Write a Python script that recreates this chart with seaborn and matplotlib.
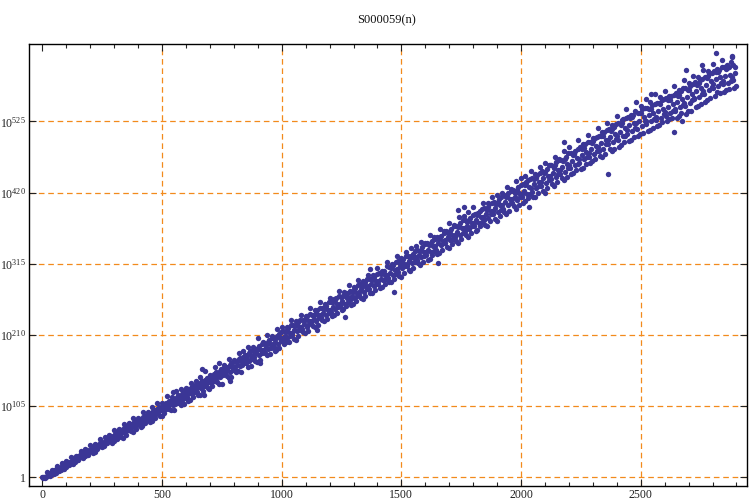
import numpy as np
import pandas as pd
import matplotlib
matplotlib.use("Agg")
import matplotlib.pyplot as plt
import seaborn as sns
from matplotlib.ticker import FixedLocator, FixedFormatter, MultipleLocator

title = "S000059(n)"
x_ticks = [0, 500, 1000, 1500, 2000, 2500]
y_ticks = [0, 105, 210, 315, 420, 525]
y_labels = ["1", r"$10^{105}$", r"$10^{210}$", r"$10^{315}$", r"$10^{420}$", r"$10^{525}$"]

upper_edge = [1,7,10,16,21,24,30,32,39,42,47,49,56,60,62,70,71,78,80,88,88,96,96,103,110,110,120,119,127,130,
131,139,142,148,157,151,162,169,165,175,173,184,186,192,192,205,200,210,208,218,221,222,232,230,240,238,249,247,258,255,
265,263,275,274,283,281,291,289,299,298,308,305,318,315,326,324,333,338,341,347,345,358,352,366,364,375,372,384,385,391,
398,390,405,404,414,417,420,428,425,437,442,436,452,447,458,463,460,473,470,481,488,478,497,491,505,500,515,510,523,520,
533,527,543,535,553,548,558,553,566,561,570,562,578,571,586,582,592,590,601,600,610,603,616,608,620]
upper_mid = [1,5,10,14,19,23,28,31,37,40,44,48,53,57,61,66,69,74,78,83,86,91,95,99,104,108,113,116,122,125,
130,133,139,142,147,150,155,160,163,168,172,176,181,186,189,194,198,203,206,212,215,220,224,229,232,238,240,246,250,253,
258,264,266,272,275,279,285,288,293,296,301,305,310,313,319,322,327,330,336,339,345,349,354,356,363,366,371,375,380,383,
389,393,397,403,406,410,416,419,424,428,433,438,442,446,452,455,460,465,468,473,478,482,488,491,495,501,504,509,514,517,
522,528,531,535,538,543,545,549,552,556,559,562,567,570,574,578,583,586,591,596,600,601,606,605,609]
middle = [0,4,8,12,17,21,25,29,34,37,41,45,50,54,58,62,66,70,74,79,82,87,90,95,99,103,108,111,116,120,
124,128,133,137,141,145,149,154,158,162,166,170,175,179,183,187,192,196,200,205,209,213,217,222,226,230,234,239,243,247,
251,256,260,264,268,272,277,281,285,289,293,298,302,306,311,315,319,323,328,332,336,341,345,349,354,358,362,367,371,375,
380,384,388,393,397,401,406,410,414,419,423,428,432,436,441,445,449,454,458,462,467,471,476,480,484,489,493,497,502,506,
510,515,519,523,526,531,534,537,540,543,546,550,554,558,561,565,570,574,579,584,588,590,592,594,597]
lower_mid = [-1,3,6,10,15,19,22,26,31,33,38,42,46,50,54,58,62,65,69,75,78,82,85,91,94,98,102,106,110,114,
118,123,126,132,135,139,144,148,152,155,160,164,168,172,177,180,185,189,194,197,203,206,210,215,219,222,228,231,236,240,
244,248,253,256,261,265,269,274,277,282,285,291,294,299,303,308,311,316,320,325,328,333,336,342,345,350,354,358,363,366,
371,375,380,383,388,392,396,401,405,409,414,418,421,427,430,434,440,443,448,451,456,461,464,469,473,477,482,485,491,494,
498,503,507,511,514,518,521,525,527,530,533,538,541,546,548,552,558,561,566,571,575,578,580,582,586]
lower_edge = [-1,2,5,9,12,18,20,26,29,33,35,41,44,50,51,56,60,62,68,71,74,80,81,88,90,95,100,99,109,108,
113,119,122,127,131,134,141,138,149,148,155,155,168,164,172,173,183,182,191,190,197,200,204,209,214,215,223,225,232,233,
238,243,246,253,254,260,264,268,272,276,279,285,288,293,297,302,306,309,316,318,321,328,330,336,339,344,348,352,358,361,
363,370,372,378,381,385,392,393,400,402,405,412,414,420,423,427,433,436,441,443,447,453,455,462,464,469,474,477,484,484,
487,494,496,502,504,508,511,515,518,524,525,530,530,537,536,541,546,550,553,560,563,567,568,573,574]
fill_a = [1,3,9,11,18,20,26,30,33,38,43,46,48,55,59,60,68,69,76,77,85,84,93,93,102,101,111,108,119,117,
127,125,137,134,145,142,153,151,162,158,171,166,180,175,188,183,197,191,205,201,214,209,223,217,232,226,239,235,248,243,
258,251,267,259,274,268,282,277,291,285,300,292,309,300,316,311,324,317,334,326,343,334,352,345,360,352,369,361,377,370,
387,376,395,388,403,395,413,404,420,413,431,418,440,430,449,438,457,448,467,456,476,462,485,473,493,482,503,491,511,499,
519,504,530,516,538,525,544,528,552,536,556,541,563,549,571,557,579,565,589,576,598,582,602,585,606]
fill_b = [0,6,7,13,16,22,24,28,35,36,40,47,51,52,57,64,64,72,73,81,80,89,88,97,97,106,105,114,112,123,
121,131,130,140,138,148,146,157,155,165,163,174,172,183,180,191,188,199,197,209,205,217,213,226,222,235,230,243,240,251,
247,261,256,269,265,276,273,285,282,294,289,303,298,311,307,319,315,327,325,336,332,346,341,354,350,363,358,371,368,380,
375,390,384,398,393,406,401,415,411,424,418,434,427,442,436,451,444,460,453,469,461,477,470,486,479,496,487,504,497,514,
504,522,513,531,522,538,526,544,531,551,539,556,544,564,552,572,560,582,570,592,580,598,584,604,590]
fill_c = [2,5,6,14,15,23,23,31,31,40,37,48,46,57,53,67,58,75,66,84,76,92,83,100,91,110,99,117,107,128,
114,136,121,144,130,153,137,161,146,170,157,178,163,188,170,196,180,205,188,214,199,225,203,232,213,241,222,250,231,258,
240,268,248,272,256,283,263,292,272,300,281,311,288,317,296,326,304,334,313,344,322,354,331,360,338,370,345,379,354,387,
365,396,371,404,378,413,388,422,396,431,407,440,414,449,420,460,430,468,439,478,449,485,456,494,466,502,473,512,482,521,
490,530,497,540,507,545,513,550,520,558,528,564,533,574,540,580,548,587,556,597,568,606,572,612,578]
outlier_n = [2814,2688,2178,2365,2641,2671,2018,2880,2754,2545,1761,1735,1367,1651,1263,1149,1471,2035,667,786,677,974,544,911]
outlier_exp = [626,601,495,447,509,525,444,621,608,566,398,395,307,316,236,217,274,398,159,142,121,186,125,168]

index_lists = [list(range(start, 2900, 20)) for start in (0, 7, 13, 4, 10, 16, 2, 18)]
tracks = [upper_edge, upper_mid, middle, lower_mid, lower_edge, fill_a, fill_b, fill_c]

df = pd.DataFrame({
    "n": [i for lst in index_lists for i in lst] + outlier_n,
    "exponent": [v for t in tracks for v in t] + outlier_exp,
})

sns.set_theme(style="ticks")
plt.rcParams["font.family"] = ["Liberation Serif", "DejaVu Serif"]
plt.rcParams["mathtext.fontset"] = "custom"
plt.rcParams["mathtext.rm"] = "Liberation Serif"
plt.rcParams["mathtext.it"] = "Liberation Serif"
plt.rcParams["mathtext.default"] = "regular"

fig = plt.figure(figsize=(7.5, 5.01), dpi=100)
ax = fig.add_axes([28.5/750, 1 - 486/501, (746.5-28.5)/750, (486-43.5)/501])
sns.scatterplot(data=df, x="n", y="exponent", ax=ax, color="#3B3696", s=15, linewidth=0, zorder=3, clip_on=False)

ax.set_xlim(-58, 2942)
ax.set_ylim(-13, 640)
ax.xaxis.set_major_locator(FixedLocator(x_ticks))
ax.xaxis.set_minor_locator(MultipleLocator(100))
ax.yaxis.set_major_locator(FixedLocator(y_ticks))
ax.yaxis.set_major_formatter(FixedFormatter(y_labels))
ax.tick_params(axis="both", which="major", direction="in", length=5, width=0.8, top=True, right=True,
               labelsize=8.5, colors="#222222", pad=2)
ax.tick_params(axis="x", which="minor", direction="in", length=3, width=0.8, top=True, bottom=True)
ax.grid(True, which="major", color="#F28A1C", linestyle=(0, (4.5, 3)), linewidth=0.9)
ax.xaxis.get_gridlines()[0].set_visible(False)
ax.set_axisbelow(True)
for s in ax.spines.values():
    s.set_visible(True)
    s.set_linewidth(1.0)
    s.set_color("black")
ax.set_xlabel("")
ax.set_ylabel("")
fig.text(387/750, 1 - 20/501, title, ha="center", va="center", fontsize=9, color="#111111")
fig.savefig("out.png", dpi=100)
